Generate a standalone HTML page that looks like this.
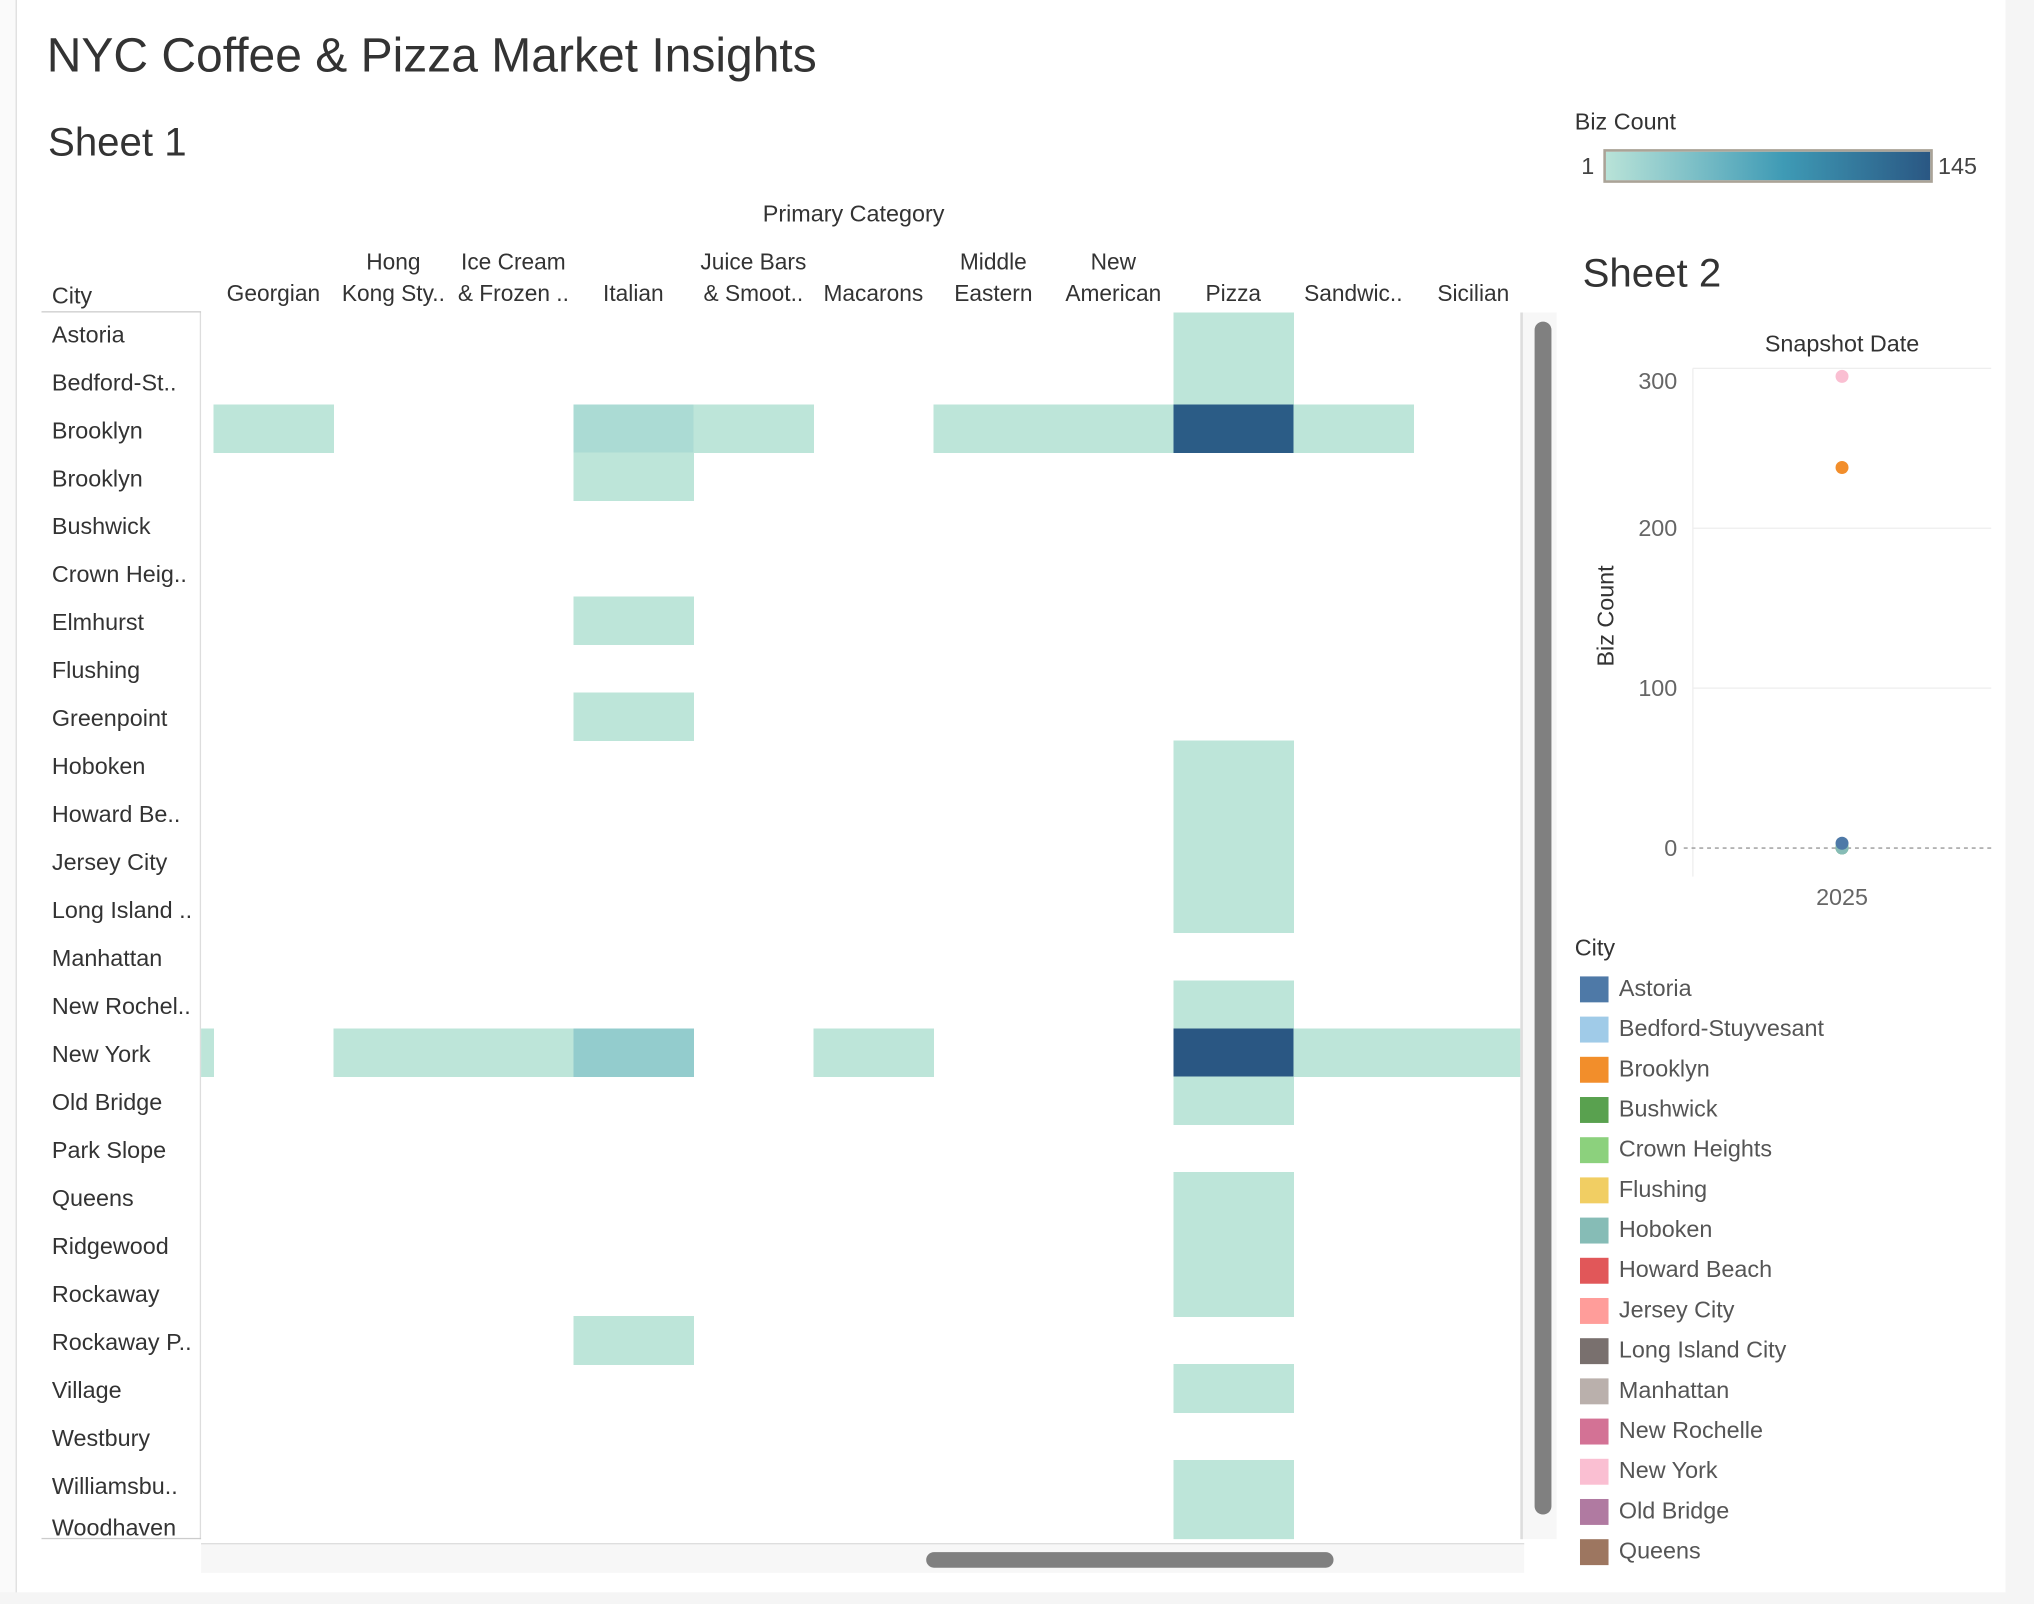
<!DOCTYPE html>
<html><head><meta charset="utf-8">
<style>
html,body{margin:0;padding:0;background:#fff;overflow:hidden}
#root{position:absolute;left:0;top:0;width:1568px;height:1237px;transform-origin:0 0;transform:scale(1.2972,1.2967);font-family:"Liberation Sans","DejaVu Sans",sans-serif;color:#333;background:#fff}
.abs{position:absolute;white-space:nowrap}
.rl{position:absolute;left:40px;font-size:18px;color:#333;line-height:37px}
.ch{position:absolute;font-size:17.5px;text-align:center;line-height:24px;color:#333}
.lg{position:absolute;left:1218px;font-size:18px;color:#555}
.lg span{display:inline-block;width:22px;height:20px;vertical-align:middle;margin-right:8px}
</style></head><body>
<div id="root">
  <div class="abs" style="left:0;top:0;width:12px;height:1237px;border-right:1px solid #ddd;background:#fafafa"></div>
  <div class="abs" style="left:1546px;top:0;width:22px;height:1237px;background:#f5f5f5"></div>
  <div class="abs" style="left:0;top:1228px;width:1568px;height:9px;background:#f5f5f5"></div>
  <div class="abs" style="left:36px;top:22px;font-size:37px;color:#333">NYC Coffee &amp; Pizza Market Insights</div>
  <div class="abs" style="left:37px;top:92px;font-size:31px;color:#333">Sheet 1</div>
  <div class="abs" style="left:588px;top:155px;font-size:18px">Primary Category</div>
  <div class="abs" style="left:40px;top:218px;font-size:18px">City</div>
  <div class="abs" style="left:32px;top:240px;width:123px;border-top:1px solid #ccc"></div>
  <div id="colheads" class="abs" style="left:155px;top:180px;width:1020px;height:60px;overflow:hidden"></div>
  <div id="rowheads" class="abs" style="left:0;top:241px;width:155px;height:946px;overflow:hidden"></div>
  <div class="abs" style="left:154px;top:241px;height:946px;border-left:1px solid #ddd"></div>
  <div class="abs" style="left:32px;top:1186px;width:123px;border-top:1px solid #ccc"></div>
  <svg id="heat" class="abs" style="left:155px;top:241px" width="1020" height="946" shape-rendering="crispEdges"></svg>
  <div class="abs" style="left:1172px;top:241px;width:26px;height:946px;background:#f7f7f7;border-left:2px solid #ddd"></div>
  <div class="abs" style="left:1183px;top:248px;width:13px;height:920px;border-radius:7px;background:#808080"></div>
  <div class="abs" style="left:155px;top:1190px;width:1020px;height:22px;background:#f7f7f7;border-top:1px solid #ddd"></div>
  <div class="abs" style="left:714px;top:1197px;width:314px;height:12px;border-radius:6px;background:#808080"></div>

  <div class="abs" style="left:1214px;top:84px;font-size:18px">Biz Count</div>
  <div class="abs" style="left:1219px;top:118px;font-size:18px;color:#444">1</div>
  <div class="abs" style="left:1236px;top:115px;width:250px;height:22px;border:2px solid #aaa397;background:linear-gradient(to right,#b9e3d8,#3e9ab5 55%,#2a5783)"></div>
  <div class="abs" style="left:1494px;top:118px;font-size:18px;color:#444">145</div>

  <div class="abs" style="left:1220px;top:193px;font-size:31px">Sheet 2</div>
  <svg id="scatter" class="abs" style="left:1200px;top:240px" width="346" height="480"></svg>

  <div class="abs" style="left:1214px;top:721px;font-size:18px">City</div>
  <div id="legend"></div>
</div>
<script>
const cities=["Astoria","Bedford-St..","Brooklyn","Brooklyn","Bushwick","Crown Heig..","Elmhurst","Flushing","Greenpoint","Hoboken","Howard Be..","Jersey City","Long Island ..","Manhattan","New Rochel..","New York","Old Bridge","Park Slope","Queens","Ridgewood","Rockaway","Rockaway P..","Village","Westbury","Williamsbu..","Woodhaven"];
const categories=[["","French"],["","Georgian"],["Hong","Kong Sty.."],["Ice Cream","& Frozen .."],["","Italian"],["Juice Bars","& Smoot.."],["","Macarons"],["Middle","Eastern"],["New","American"],["","Pizza"],["","Sandwic.."],["","Sicilian"]];
// [rowIndex, colIndex, bizCount]
const cells=[[0,9,1],[1,9,1],[2,1,1],[2,4,11],[2,5,1],[2,7,1],[2,8,1],[2,9,140],[2,10,1],[3,4,1],[6,4,1],[8,4,1],[9,9,1],[10,9,1],[11,9,1],[12,9,1],[14,9,1],[15,0,1],[15,2,1],[15,3,1],[15,4,25],[15,6,1],[15,9,145],[15,10,1],[15,11,1],[16,9,1],[18,9,1],[19,9,1],[20,9,1],[21,4,1],[22,9,1],[24,9,1],[25,9,1]];
const legendCities=["Astoria","Bedford-Stuyvesant","Brooklyn","Bushwick","Crown Heights","Flushing","Hoboken","Howard Beach","Jersey City","Long Island City","Manhattan","New Rochelle","New York","Old Bridge","Queens"];
const legendColors=["#4e79a7","#a0cbe8","#f28e2b","#59a14f","#8cd17d","#f1ce63","#86bcb6","#e15759","#ff9d9a","#79706e","#bab0ac","#d37295","#fabfd2","#b07aa1","#9d7660"];
const pointCities=["Bushwick","Crown Heights","Hoboken","Astoria","Brooklyn","New York"];
const pointValues=[0,1,0,3,238,295];
const yTicks=[0,100,200,300];
const NS="http://www.w3.org/2000/svg";
const colW=92.5,rowH=37,colX0=-83;
const xCol=i=>colX0+i*colW, yRow=r=>r*rowH-3;
function hex(h){return [1,3,5].map(i=>parseInt(h.substr(i,2),16));}
function color(v){const t=(v-1)/144;const s=[[0,hex("#bde5d9")],[0.5,hex("#3e9ab5")],[1,hex("#2a5783")]];
 let a=s[0],b=s[1];if(t>0.5){a=s[1];b=s[2];}const u=(t-a[0])/(b[0]-a[0]);
 return "rgb("+a[1].map((c,i)=>Math.round(c+(b[1][i]-c)*u)).join(",")+")";}
const ch=document.getElementById("colheads");
categories.forEach((c,i)=>{const d=document.createElement("div");d.className="ch";
 
 
 d.style.left=xCol(i)+"px";d.style.width=colW+"px";d.style.top="10px";
 d.innerHTML=(c[0]||"&nbsp;")+"<br>"+c[1];ch.appendChild(d);});
const rh=document.getElementById("rowheads");
cities.forEach((c,r)=>{const d=document.createElement("div");d.className="rl";
 
 
 d.style.top=Math.min(yRow(r)+2,919)+"px";d.textContent=c;rh.appendChild(d);});
const hm=document.getElementById("heat");
cells.forEach(c=>{const e=document.createElementNS(NS,"rect");
 
 
 e.setAttribute("x",xCol(c[1]));e.setAttribute("y",yRow(c[0]));
 e.setAttribute("width",colW+0.5);e.setAttribute("height",rowH+0.5);e.setAttribute("fill",color(c[2]));hm.appendChild(e);});
// scatter
const sc=document.getElementById("scatter");
const y0=414,pxU=1.233,yS=v=>y0-v*pxU;
function el(t,a,txt){const e=document.createElementNS(NS,t);for(const k in a)e.setAttribute(k,a[k]);if(txt!=null)e.textContent=txt;sc.appendChild(e);return e;}
el("text",{x:220,y:31,"font-size":18,"text-anchor":"middle",fill:"#333","font-family":"Liberation Sans"},"Snapshot Date");
el("line",{x1:105,x2:105,y1:yS(300),y2:436,stroke:"#eee"});
yTicks.forEach(t=>{
 const g=el("line",{x1:t===0?98:105,x2:335,y1:yS(t),y2:yS(t),stroke:t===0?"#999":"#eee","stroke-dasharray":t===0?"3,3":""});
 
 
 const ly=t===300?yS(t)+16:yS(t)+6;
 const l=el("text",{x:93,y:ly,"font-size":18,"text-anchor":"end",fill:"#666","font-family":"Liberation Sans"},String(t));
 
 
});
el("text",{x:220,y:458,"font-size":18,"text-anchor":"middle",fill:"#666","font-family":"Liberation Sans"},"2025");
el("text",{x:44,y:235,"font-size":18,"text-anchor":"middle",fill:"#333","font-family":"Liberation Sans",transform:"rotate(-90 44 235)"},"Biz Count");
pointCities.forEach((c,i)=>{const p=el("circle",{cx:220,cy:yS(pointValues[i]),r:5,fill:legendColors[legendCities.indexOf(c)]});
 
 });
const lg=document.getElementById("legend");
legendCities.forEach((c,i)=>{const d=document.createElement("div");d.className="lg";
 
 
 d.style.top=(752+i*31)+"px";d.innerHTML='<span style="background:'+legendColors[i]+'"></span>'+c;lg.appendChild(d);});
</script>
</body></html>
